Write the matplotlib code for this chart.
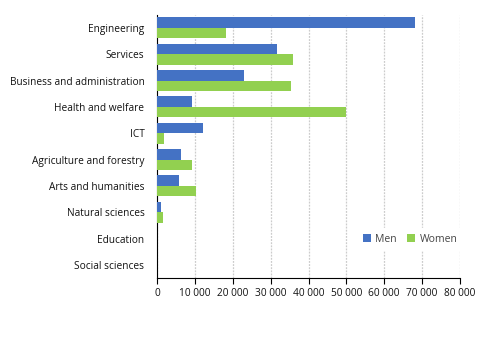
import matplotlib
matplotlib.use("Agg")
import matplotlib.pyplot as plt
import numpy as np
from matplotlib.ticker import FuncFormatter

categories = ["Engineering", "Services", "Business and administration", "Health and welfare",
              "ICT", "Agriculture and forestry", "Arts and humanities", "Natural sciences",
              "Education", "Social sciences"]
men = [68000, 31700, 23000, 9200, 12100, 6300, 5800, 1000, 0, 0]
women = [18200, 35900, 35400, 49900, 1800, 9200, 10300, 1500, 0, 0]
xticks = list(range(0, 80001, 10000))

plt.rcParams['font.family'] = ['Open Sans', 'DejaVu Sans']
fig = plt.figure(figsize=(4.91, 3.40), dpi=100)
ax = fig.add_axes([157/491, 1-278/340, (460-157)/491, (278-14.8)/340])

y = np.arange(len(categories))
h = 0.4
ax.barh(y - h/2, men, height=h, color="#4472C4", label="Men", zorder=3)
ax.barh(y + h/2, women, height=h, color="#92D050", label="Women", zorder=3)
ax.set_ylim(len(categories) - 0.5, -0.5)
ax.set_yticks(y)
ax.set_yticklabels(categories, fontsize=7.3, color="#111111")
ax.tick_params(axis='y', length=0, pad=9)
ax.set_xlim(0, 80000)
ax.set_xticks(xticks)
ax.xaxis.set_major_formatter(FuncFormatter(lambda v, p: f"{int(v):,}".replace(",", " ")))
ax.tick_params(axis='x', labelsize=7.3, length=4, color="black", labelcolor="#111111", pad=3)
ax.grid(axis='x', color="#cccccc", linestyle=(0, (1.5, 1)), linewidth=0.9, zorder=0)
for s in ["top", "right"]:
    ax.spines[s].set_visible(False)
ax.spines["left"].set_color("black")
ax.spines["bottom"].set_color("black")
leg = ax.legend(loc="center", bbox_to_anchor=(0.835, 0.148), ncol=2, fontsize=7.5, frameon=True,
                handlelength=0.8, handleheight=0.8, columnspacing=1.0, handletextpad=0.4,
                fancybox=False, borderpad=0.5)
leg.get_frame().set_edgecolor("white")
leg.get_frame().set_facecolor("white")
leg.get_frame().set_alpha(1)
for t in leg.get_texts():
    t.set_color("#444444")
fig.savefig("out.png", dpi=100)
